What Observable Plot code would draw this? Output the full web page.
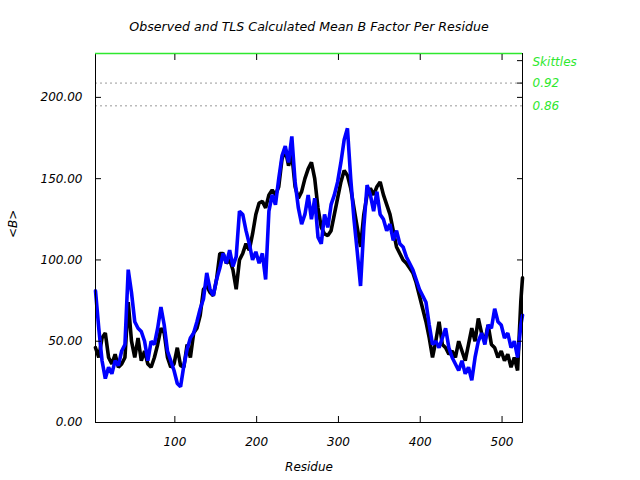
<!DOCTYPE html>
<html>
<head>
<meta charset="utf-8">
<script src="https://cdn.jsdelivr.net/npm/d3@7"></script>
<script src="https://cdn.jsdelivr.net/npm/@observablehq/plot@0.6"></script>
<style>
  html, body { margin: 0; padding: 0; background: #fff; }
</style>
</head>
<body>
<div id="chart"></div>
<script>
const title = "Observed and TLS Calculated Mean B Factor Per Residue";
const xLabel = "Residue";
const yLabel = "<B>";

// residue numbers (every 4th residue, plus the last one)
const residues = [...d3.range(3, 524, 4), 525];

// TLS calculated mean B (blue)
const tlsB = [
  81, 58, 38, 27, 34, 30, 38, 35, 44, 48,
  94, 80, 62, 58, 56, 50, 38, 50, 48, 58,
  71, 60, 44, 38, 32, 24, 22, 35, 45, 52,
  55, 62, 70, 76, 92, 82, 78, 88, 95, 104,
  98, 106, 96, 102, 130, 128, 118, 110, 100, 105,
  98, 104, 88, 130, 140, 134, 150, 164, 170, 160,
  176, 148, 132, 122, 128, 140, 125, 138, 114, 110,
  128, 120, 134, 140, 148, 160, 174, 181, 150, 125,
  105, 84, 120, 146, 140, 130, 142, 128, 125, 118,
  122, 112, 118, 110, 108, 102, 98, 94, 88, 82,
  78, 74, 60, 48, 50, 46, 52, 58, 46, 40,
  36, 32, 38, 30, 34, 26, 40, 50, 55, 48,
  60, 58, 70, 62, 60, 52, 55, 46, 50, 40,
  60, 66
];

// Observed mean B (black)
const observedB = [
  46, 40, 52, 55, 40, 36, 42, 34, 36, 40,
  74, 50, 40, 52, 38, 44, 36, 34, 40, 48,
  58, 55, 40, 34, 36, 46, 35, 34, 48, 40,
  55, 58, 66, 82, 84, 80, 78, 88, 104, 104,
  98, 100, 94, 82, 100, 104, 110, 106, 116, 128,
  135, 136, 132, 140, 143, 140, 145, 162, 168, 158,
  165, 145, 138, 142, 150, 156, 160, 150, 132, 120,
  116, 115, 118, 128, 138, 148, 155, 152, 144, 132,
  120, 108, 128, 140, 144, 140, 145, 148, 140, 134,
  128, 118, 108, 104, 100, 98, 95, 92, 86, 78,
  70, 62, 52, 40, 50, 62, 48, 46, 42, 44,
  40, 50, 44, 38, 48, 58, 50, 64, 55, 50,
  60, 48, 46, 40, 44, 38, 42, 34, 40, 32,
  75, 89
];

const xTicks = [100, 200, 300, 400, 500];
const yTicks = [0, 50, 100, 150, 200];

// Skittles labels on the right
const skittlesLabels = ["Skittles", "0.92", "0.86"];
const skittlesY = [221.8, 208.8, 194.8];
const dottedY = [208.8, 194.8];
const rightTicks = [0, 50, 100, 150, 200, 208.8, 222.6];

const xDomain = [3, 525];
const yDomain = [0, 227];

const observed = residues.map((r, i) => ({residue: r, b: observedB[i]}));
const tls = residues.map((r, i) => ({residue: r, b: tlsB[i]}));

const green = "#2ee82e";
const fmt = d3.format(".2f");

const chart = Plot.plot({
  width: 640,
  height: 480,
  marginLeft: 95,
  marginRight: 118,
  marginTop: 53,
  marginBottom: 58,
  style: {fontFamily: "DejaVu Sans", fontSize: "12px", fontStyle: "italic", color: "#000", background: "#fff"},
  x: {domain: xDomain},
  y: {domain: yDomain},
  marks: [
    Plot.ruleY(dottedY, {stroke: "#999", strokeDasharray: "2,3"}),
    Plot.line(observed, {x: "residue", y: "b", stroke: "#000", strokeWidth: 3.6, strokeLinejoin: "miter"}),
    Plot.line(tls, {x: "residue", y: "b", stroke: "#0000ff", strokeWidth: 3.6, strokeLinejoin: "miter"}),
    Plot.frame({stroke: "#000"}),
    Plot.ruleY([yDomain[1]], {stroke: green, strokeWidth: 1.5}),
    Plot.axisY({ticks: yTicks, tickFormat: fmt, tickSize: -6, tickPadding: 19, label: null}),
    Plot.axisY({anchor: "right", ticks: rightTicks, tickSize: -6, tickFormat: () => "", label: null}),
    Plot.axisX({ticks: xTicks, tickSize: -6, tickPadding: 21, label: null}),
    Plot.axisX({anchor: "top", ticks: xTicks, tickSize: -6, tickFormat: () => "", label: null}),
    Plot.text([yLabel], {frameAnchor: "left", dx: -82, rotate: -90, lineAnchor: "middle"}),
    Plot.text([xLabel], {frameAnchor: "bottom", dy: 45, lineAnchor: "middle"}),
    Plot.text(skittlesLabels, {y: skittlesY, frameAnchor: "right", dx: 10, textAnchor: "start", lineAnchor: "middle", fill: green}),
    Plot.text([title], {frameAnchor: "top", dy: -27, lineAnchor: "middle", fontSize: 12.6})
  ]
});

document.getElementById("chart").appendChild(chart);
</script>
</body>
</html>
